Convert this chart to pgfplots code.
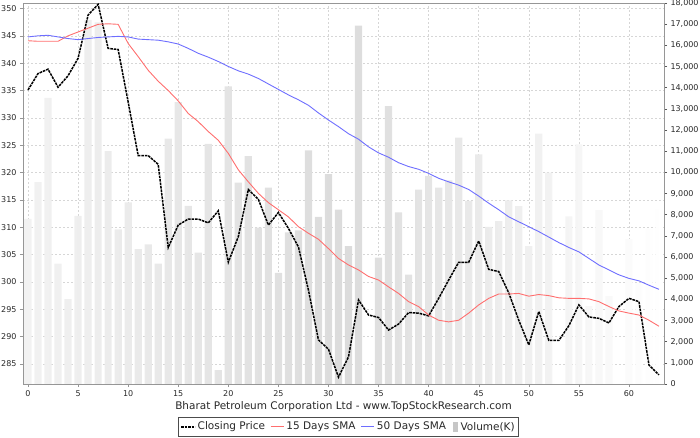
\documentclass[border=0pt]{standalone}
\usepackage{fontspec}
\setmainfont{DejaVu Sans}
\usepackage{pgfplots}
\usepackage{pgfplotstable}
\usetikzlibrary{calc}
\pgfplotsset{compat=1.18}
\definecolor{smared}{RGB}{255,110,110}
\definecolor{smablue}{RGB}{110,110,255}
\definecolor{axgray}{RGB}{150,150,150}
\definecolor{txt}{RGB}{40,40,40}
\pgfplotstableread{
x close s15 s50 vol
0 335.1 344.1 344.8 7800
1 338.1 344.0 345.0 9540
2 338.9 344.0 345.1 13520
3 335.6 344.0 344.8 5690
4 337.7 345.0 344.5 4010
5 340.9 345.7 344.3 7940
6 348.8 346.4 344.5 17200
7 350.75 347.1 344.7 17090
8 342.7 347.2 344.8 11000
9 342.5 347.1 344.9 7310
10 332.9 343.6 344.8 8580
11 323.1 341.2 344.4 6370
12 323.1 338.7 344.3 6600
13 321.5 336.7 344.2 5690
14 306.3 335.0 343.9 11590
15 310.4 333.1 343.5 13320
16 311.5 330.8 342.7 8410
17 311.5 329.3 341.8 6210
18 310.8 327.5 341.1 11350
19 313.0 325.9 340.3 660
20 303.6 323.5 339.4 14060
21 308.3 320.5 338.6 9510
22 316.9 318.3 338.0 10770
23 315.1 316.2 337.2 7390
24 310.4 314.5 336.2 9280
25 312.7 313.2 335.2 5250
26 309.8 311.9 334.2 7160
27 306.4 310.1 333.3 7260
28 298.5 308.9 332.3 11040
29 289.4 307.8 330.9 7890
30 287.7 306.1 329.6 9910
31 282.6 304.3 328.4 8240
32 286.3 303.1 327.1 6510
33 296.7 302.2 326.1 16930
34 293.95 301.0 324.7 nan
35 293.5 300.35 323.6 5970
36 291.2 299.1 322.8 13130
37 292.3 297.9 321.8 8110
38 294.4 296.4 321.1 5170
39 294.3 295.5 320.6 9180
40 293.8 293.95 319.85 9830
41 297.0 293.0 318.95 9280
42 300.35 292.7 318.3 9620
43 303.6 293.0 317.7 11640
44 303.6 294.3 316.9 8650
45 307.5 295.8 315.7 10850
46 302.3 297.0 314.4 7420
47 301.9 297.8 313.2 7700
48 298.0 297.8 311.9 8680
49 293.0 297.9 311.0 8400
50 288.5 297.4 310.1 6510
51 294.6 297.7 309.2 11830
52 289.3 297.5 308.2 9990
53 289.3 297.1 307.2 nan
54 292.0 297.0 306.3 7920
55 295.8 297.0 305.5 11320
56 293.6 296.9 304.3 3680
57 293.35 296.4 303.1 8210
58 292.5 295.5 302.2 4150
59 295.5 294.7 301.3 nan
60 297.0 294.3 300.65 6840
61 296.4 293.95 300.2 4780
62 284.8 293.0 299.4 7340
63 283.0 291.9 298.65 8290
}\datatable
\begin{document}
\begin{tikzpicture}
\pgfplotsset{
  base/.style={scale only axis, width=641pt, height=381pt, at={(0pt,0pt)}, anchor=south west,
    xmin=-0.5, xmax=63.5, /pgf/number format/assume math mode=true,
    tick label style={font=\fontsize{8}{9}\selectfont, text=txt},
    tick align=outside, major tick length=3pt},
}
% grid layer
\begin{axis}[base, ymin=281.34, ymax=351, xtick={0,5,...,60}, ytick={285,290,...,350},
  xticklabels={}, yticklabels={}, major tick length=0pt,
  axis line style={draw=none},
  grid=major, grid style={black!16, line width=0.5pt, dash pattern=on 2pt off 2pt}]
\end{axis}
% volume layer
\begin{axis}[base, ymin=0, ymax=18000, axis y line*=right, axis x line=none,
  ytick={0,1000,...,18000}, scaled y ticks=false,
  yticklabel={\pgfmathprintnumber[1000 sep={,}]{\tick}},
  y axis line style={black!65, line width=0.8pt},
  every tick/.style={black!65}]
\addplot[ybar, bar width=0.72, draw=none, left color=black!5, right color=white, middle color=black!14]
  table[x=x, y=vol] {\datatable};
\end{axis}
% price layer
\begin{axis}[base, ymin=281.34, ymax=351, xtick={0,5,...,60}, ytick={285,290,...,350},
  xtick pos=left, ytick pos=left,
  axis line style={axgray, line width=0.8pt},
  every tick/.style={axgray}]
\addplot[color=black, line width=1.5pt, dash pattern=on 2.6pt off 0.9pt] table[x=x, y=close] {\datatable};
\addplot[color=smared, line width=0.9pt] table[x=x, y=s15] {\datatable};
\addplot[color=smablue, line width=0.9pt] table[x=x, y=s50] {\datatable};
\end{axis}
% title
\node[font=\fontsize{10.5}{12}\selectfont, text=txt] at (320.5pt,-23pt) {Bharat Petroleum Corporation Ltd - www.TopStockResearch.com};
% legend
\begin{scope}[font=\fontsize{10.5}{12}\selectfont, every node/.style={text=txt, inner sep=2.5pt, anchor=west}]
\draw[black, line width=2pt, dash pattern=on 2.6pt off 0.9pt] (158pt,-42.5pt) -- ++(14pt,0) coordinate (e1);
\node (t1) at (158pt+14pt,-43pt) {Closing Price};
\draw[smared, line width=1.2pt] ($(t1.east)+(3pt,0.5pt)$) -- ++(13pt,0) coordinate (e2);
\node (t2) at ($(e2)+(0,-0.5pt)$) {15 Days SMA};
\draw[smablue, line width=1.2pt] ($(t2.east)+(3pt,0.5pt)$) -- ++(13pt,0) coordinate (e3);
\node (t3) at ($(e3)+(0,-0.5pt)$) {50 Days SMA};
\fill[black!22] ($(t3.east)+(4pt,-5pt)$) rectangle ++(5pt,10pt) coordinate (e4);
\node (t4) at ($(e4)+(0,-5pt)$) {Volume(K)};
\coordinate (bb) at (0pt,-52.6pt);
\draw[black!70, line width=0.6pt] (155pt,-33.5pt) rectangle ([xshift=1pt]t4.east |- bb);
\end{scope}
\pgfresetboundingbox
\path (-23pt,-53pt) rectangle (677pt,384pt);
\end{tikzpicture}
\end{document}
